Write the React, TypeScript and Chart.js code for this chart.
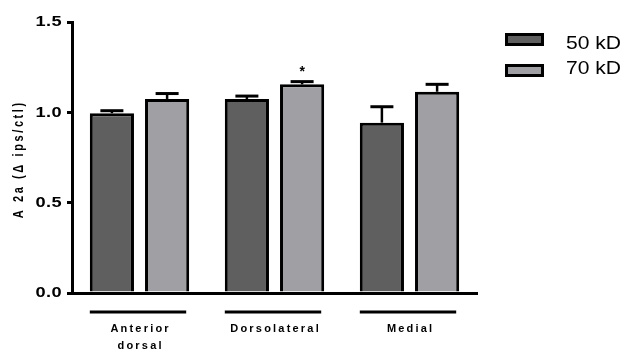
import React, { useEffect, useRef } from "react";
import { Chart, registerables } from "chart.js";

Chart.register(...registerables);

const categories: string[][] = [["Anterior", "dorsal"], ["Dorsolateral"], ["Medial"]];
const seriesLabels = ["50 kD", "70 kD"];
const values50 = [0.995, 1.074, 0.943];
const values70 = [1.074, 1.155, 1.114];
const sem50 = [0.014, 0.016, 0.088];
const sem70 = [0.03, 0.015, 0.041];
const significant70 = [false, true, false];
const yTickValues = [0, 0.5, 1.0, 1.5];
const yTitle = "A 2a (\u0394 ips/ctl)";

const FONT = '"Liberation Sans", Arial, Helvetica, sans-serif';
const DARK = "#5f5f5f";
const LIGHT = "#a09fa4";

const errors = [sem50, sem70];
const flags = [[false, false, false], significant70];

const overlay = {
  id: "overlay",
  afterDatasetsDraw(chart: any) {
    const ctx = chart.ctx as CanvasRenderingContext2D;
    const y = chart.scales.y;
    ctx.save();
    chart.data.datasets.forEach((ds: any, di: number) => {
      const meta = chart.getDatasetMeta(di);
      meta.data.forEach((bar: any, i: number) => {
        const v = ds.data[i];
        const top = y.getPixelForValue(v);
        const errTop = y.getPixelForValue(v + errors[di][i]);
        ctx.strokeStyle = "#000";
        ctx.lineWidth = 2.5;
        ctx.beginPath();
        ctx.moveTo(bar.x, top);
        ctx.lineTo(bar.x, errTop);
        ctx.stroke();
        ctx.lineWidth = 3;
        ctx.beginPath();
        ctx.moveTo(bar.x - 11.5, errTop);
        ctx.lineTo(bar.x + 11.5, errTop);
        ctx.stroke();
        if (flags[di][i]) {
          ctx.fillStyle = "#000";
          ctx.font = `bold 14px ${FONT}`;
          ctx.textAlign = "center";
          ctx.textBaseline = "middle";
          ctx.fillText("*", bar.x, errTop - 9);
        }
      });
    });
    ctx.restore();
  },
  afterDraw(chart: any) {
    const ctx = chart.ctx as CanvasRenderingContext2D;
    const area = chart.chartArea;
    const yScale = chart.scales.y;
    ctx.save();
    // y tick labels (horizontally stretched, as in the reference)
    yTickValues.forEach((v) => {
      const py = yScale.getPixelForValue(v);
      ctx.save();
      ctx.translate(62, py);
      ctx.scale(1.3, 1);
      ctx.font = `bold 14px ${FONT}`;
      (ctx as any).letterSpacing = "0.3px";
      ctx.textAlign = "right";
      ctx.textBaseline = "middle";
      ctx.fillStyle = "#000";
      ctx.fillText(v.toFixed(1), 0, 0.5);
      ctx.restore();
    });
    // group underlines and labels
    const m0 = chart.getDatasetMeta(0);
    const m1 = chart.getDatasetMeta(1);
    categories.forEach((lines, i) => {
      const b0 = m0.data[i];
      const b1 = m1.data[i];
      const left = b0.x - b0.width / 2;
      const right = b1.x + b1.width / 2;
      ctx.strokeStyle = "#000";
      ctx.lineWidth = 3;
      ctx.beginPath();
      ctx.moveTo(left, area.bottom + 19);
      ctx.lineTo(right - 3, area.bottom + 19);
      ctx.stroke();
      ctx.fillStyle = "#000";
      ctx.font = `bold 11px ${FONT}`;
      (ctx as any).letterSpacing = "2.2px";
      ctx.textAlign = "center";
      ctx.textBaseline = "middle";
      const cx = (left + right) / 2 + 1.1;
      lines.forEach((t, li) => {
        ctx.fillText(t, cx, area.bottom + 35.5 + li * 17);
      });
      (ctx as any).letterSpacing = "0px";
    });
    // y title
    ctx.save();
    ctx.translate(19, (area.top + area.bottom) / 2 + 3);
    ctx.rotate(-Math.PI / 2);
    ctx.scale(1, 1.25);
    ctx.font = `bold 11px ${FONT}`;
    (ctx as any).letterSpacing = "2.6px";
    ctx.textAlign = "center";
    ctx.textBaseline = "middle";
    ctx.fillStyle = "#000";
    ctx.fillText(yTitle, 1.3, 0);
    ctx.restore();
    // legend
    const colors = [DARK, LIGHT];
    const boxY = [33, 64];
    const textY = [44, 69];
    seriesLabels.forEach((lab, i) => {
      ctx.fillStyle = colors[i];
      ctx.fillRect(505, boxY[i], 39, 13);
      ctx.strokeStyle = "#000";
      ctx.lineWidth = 3;
      ctx.strokeRect(506.5, boxY[i] + 1.5, 36, 10);
      ctx.save();
      ctx.translate(566, textY[i]);
      ctx.scale(1.17, 1);
      ctx.fillStyle = "#000";
      ctx.font = `18px ${FONT}`;
      ctx.textAlign = "left";
      ctx.textBaseline = "middle";
      ctx.fillText(lab, 0, 0);
      ctx.restore();
    });
    ctx.restore();
  },
};

export default function App() {
  const ref = useRef<HTMLCanvasElement | null>(null);
  useEffect(() => {
    document.body.style.margin = "0";
    const chart = new Chart(ref.current as HTMLCanvasElement, {
      type: "bar",
      data: {
        labels: categories.map((c) => c.join(" ")),
        datasets: [
          {
            label: seriesLabels[0],
            data: values50,
            backgroundColor: DARK,
            borderColor: "#000",
            borderWidth: 3,
            categoryPercentage: 0.818,
            barPercentage: 0.8,
          },
          {
            label: seriesLabels[1],
            data: values70,
            backgroundColor: LIGHT,
            borderColor: "#000",
            borderWidth: 3,
            categoryPercentage: 0.818,
            barPercentage: 0.8,
          },
        ],
      },
      options: {
        responsive: false,
        animation: false,
        layout: { padding: { top: 22, right: 145, bottom: 0, left: 0 } },
        plugins: { legend: { display: false }, tooltip: { enabled: false } },
        scales: {
          x: {
            offset: true,
            grid: { display: false },
            border: { display: true, color: "#000", width: 3 },
            ticks: { display: false },
            afterFit: (s: any) => {
              s.height = 58;
            },
          },
          y: {
            min: 0,
            max: 1.5,
            afterBuildTicks: (s: any) => {
              s.ticks = yTickValues.map((v) => ({ value: v }));
            },
            grid: {
              display: true,
              drawOnChartArea: false,
              drawTicks: true,
              tickLength: 5,
              color: "#000",
              lineWidth: 3,
            },
            border: { display: true, color: "#000", width: 3 },
            ticks: { display: false },
            afterFit: (s: any) => {
              s.width = 72;
            },
          },
        },
      },
      plugins: [overlay],
    } as any);
    return () => chart.destroy();
  }, []);
  return (
    <div style={{ position: "absolute", left: 0, top: 0, width: 622, height: 351, background: "#fff" }}>
      <canvas ref={ref} width={622} height={351} />
    </div>
  );
}
